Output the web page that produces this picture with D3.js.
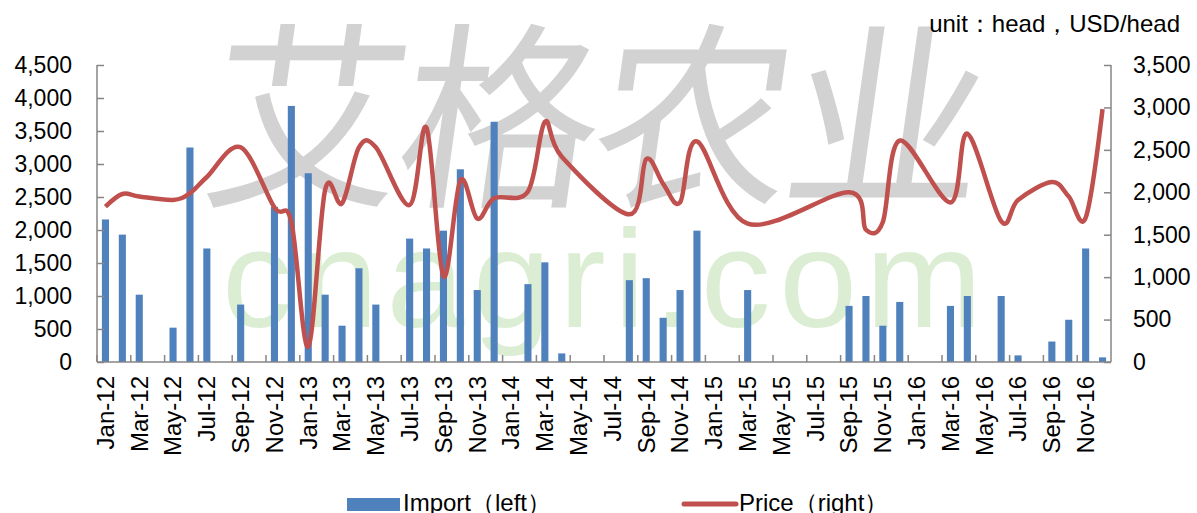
<!DOCTYPE html>
<html>
<head>
<meta charset="utf-8">
<script src="https://cdn.jsdelivr.net/npm/d3@7"></script>
<style>
  body { margin: 0; background: #fff; }
  svg { display: block; }
  .axis text { font-family: "Liberation Sans", Arial, sans-serif; font-size: 23px; fill: #000; }
  .axis path, .axis line { stroke: #868686; stroke-width: 1.5; }
</style>
</head>
<body>
<div id="grafico"></div>
<script>
// categorias
var years = ["12", "13", "14", "15", "16"];
var monthNames = ["Jan", "Feb", "Mar", "Apr", "May", "Jun", "Jul", "Aug", "Sep", "Oct", "Nov", "Dec"];
var months = [];
years.forEach(function (y) { monthNames.forEach(function (m) { months.push(m + "-" + y); }); });

// series
var imports = [2160, 1930, 1020, null, 520, 3250, 1720, null, 870, null, 2350, 3880,
               2860, 1020, 550, 1420, 870, null, 1870, 1720, 1990, 2920, 1090, 3640,
               null, 1180, 1510, 130, null, null, null, 1240, 1270, 670, 1090, 1990,
               null, null, 1090, null, null, null, null, null, 850, 1000, 550, 910,
               null, null, 850, 1000, null, 1000, 100, null, 310, 640, 1720, 70];

var prices = [1830, 1980, 1950, null, 1910, 1990, 2180, null, 2530, null, 1820, 1650,
              180, 2030, 1870, 2530, 2530, null, 1850, 2760, 1010, 2140, 1690, 1930,
              null, 2010, 2830, 2420, null, null, null, 1740, 2390, 2100, 1880, 2600,
              null, null, 1630, null, null, null, null, null, 2000, 1560, 1650, 2610,
              null, null, 1880, 2690, null, 1660, 1910, null, 2120, 1950, 1700, 2980];

var leftTicks = [0, 500, 1000, 1500, 2000, 2500, 3000, 3500, 4000, 4500];
var rightTicks = [0, 500, 1000, 1500, 2000, 2500, 3000, 3500];

var W = 1197, H = 513,
    pL = 97, pR = 1111, pT = 65, pB = 362;

var svg = d3.select("#grafico").append("svg").attr("width", W).attr("height", H);

// marcas de agua
svg.append("text")
    .attr("x", 205).attr("y", 192)
    .attr("textLength", 780)
    .attr("font-family", "Noto Sans CJK SC")
    .attr("font-size", 200)
    .attr("fill", "#d2d2d2")
    .attr("transform", "skewX(-8) translate(20,0)")
    .text("艾格农业");

svg.append("text")
    .attr("x", 222).attr("y", 327)
    .attr("textLength", 760)
    .attr("font-family", "Liberation Sans, Arial, sans-serif")
    .attr("font-size", 140)
    .attr("fill", "#dbeed3")
    .text("cnagri.com");

var x = d3.scaleBand().domain(months).range([pL, pR]).paddingInner(0.58).paddingOuter(0.29);
var yL = d3.scaleLinear().domain([0, 4500]).range([pB, pT]);
var yR = d3.scaleLinear().domain([0, 3500]).range([pB, pT]);
var cx = function (m) { return x(m) + x.bandwidth() / 2; };

// barras
svg.append("g").selectAll("rect")
    .data(months.map(function (m, i) { return {m: m, v: imports[i]}; }).filter(function (d) { return d.v != null; }))
    .enter().append("rect")
    .attr("x", function (d) { return x(d.m); })
    .attr("y", function (d) { return yL(d.v); })
    .attr("width", x.bandwidth())
    .attr("height", function (d) { return pB - yL(d.v); })
    .attr("fill", "#4f81bd");

// ejes
svg.append("g").attr("class", "axis")
    .attr("transform", "translate(" + pL + ",0)")
    .call(d3.axisLeft(yL).tickValues(leftTicks).tickSize(-7).tickPadding(25).tickFormat(d3.format(",")))
    .call(function (g) { g.select(".domain").attr("d", "M0," + pT + "V" + pB); });

svg.append("g").attr("class", "axis")
    .attr("transform", "translate(" + pR + ",0)")
    .call(d3.axisRight(yR).tickValues(rightTicks).tickSize(-7).tickPadding(22).tickFormat(d3.format(",")))
    .call(function (g) { g.select(".domain").attr("d", "M0," + pT + "V" + pB); });

var xa = svg.append("g").attr("class", "axis");
xa.append("line").attr("x1", pL).attr("x2", pR).attr("y1", pB).attr("y2", pB);
xa.selectAll("line.tk")
    .data(months.filter(function (m, i) { return i % 2 == 0; }))
    .enter().append("line").attr("class", "tk")
    .attr("x1", function (m) { return cx(m) - x.step() / 2; })
    .attr("x2", function (m) { return cx(m) - x.step() / 2; })
    .attr("y1", pB).attr("y2", pB - 7);
xa.selectAll("text")
    .data(months.filter(function (m, i) { return i % 2 == 0; }))
    .enter().append("text")
    .attr("text-anchor", "end")
    .attr("dy", "0.35em")
    .style("font-size", "24px")
    .attr("transform", function (m) { return "translate(" + cx(m) + ",376) rotate(-90)"; })
    .text(function (m) { return m; });

// linea de precios
var pts = months.map(function (m, i) { return {m: m, v: prices[i]}; }).filter(function (d) { return d.v != null; });
var line = d3.line()
    .x(function (d) { return cx(d.m); })
    .y(function (d) { return yR(d.v); })
    .curve(d3.curveCardinal.tension(0));
svg.append("path")
    .datum(pts)
    .attr("d", line)
    .attr("fill", "none")
    .attr("stroke", "#c0504d")
    .attr("stroke-width", 4.5)
    .attr("stroke-linejoin", "round");

// titulo
svg.append("text")
    .attr("x", 1180).attr("y", 32)
    .attr("text-anchor", "end")
    .attr("font-family", "Liberation Sans, Arial, sans-serif")
    .attr("font-size", 24)
    .text("unit：head，USD/head");

// leyenda
var lg = svg.append("g").attr("font-family", "Liberation Sans, Arial, sans-serif").attr("font-size", 24);
lg.append("rect").attr("x", 347).attr("y", 498).attr("width", 53).attr("height", 13).attr("fill", "#4f81bd");
lg.append("text").attr("x", 403).attr("y", 511).text("Import（left）");
lg.append("line").attr("x1", 684).attr("x2", 736).attr("y1", 504).attr("y2", 504)
    .attr("stroke", "#c0504d").attr("stroke-width", 5).attr("stroke-linecap", "round");
lg.append("text").attr("x", 739).attr("y", 511).text("Price（right）");
</script>
</body>
</html>
